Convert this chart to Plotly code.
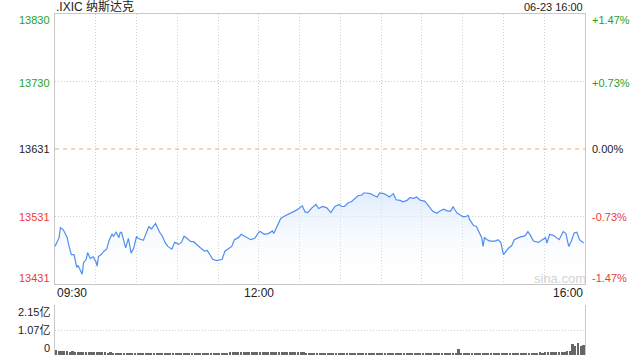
import plotly.graph_objects as go

# ---------------- data ----------------
title_text = ".IXIC 纳斯达克"
date_text = "06-23 16:00"
prev_close = 13631

# minutes since 09:30
minutes = [0, 2, 3, 4, 6, 7, 9, 10, 12, 14, 16, 17, 20, 21, 23, 24, 26, 28, 30, 31,
           32, 34, 36, 38, 40, 42, 43, 45, 47, 48, 49, 50, 52, 54, 56, 58, 60, 61, 65, 69,
           71, 74, 75, 77, 79, 81, 83, 86, 88, 91, 93, 95, 97, 100, 102, 104, 107, 110, 112, 114,
           116, 119, 123, 125, 128, 130, 132, 135, 137, 140, 142, 144, 147, 150, 151, 154, 157, 160, 161, 163,
           166, 168, 170, 172, 175, 178, 182, 184, 186, 189, 192, 194, 197, 200, 203, 206, 209, 211, 213, 216,
           218, 221, 223, 226, 227, 229, 232, 234, 237, 239, 242, 244, 246, 249, 251, 254, 256, 259, 261, 264,
           266, 269, 272, 274, 276, 278, 281, 283, 286, 288, 291, 293, 294, 296, 298, 300, 302, 304, 305, 308,
           310, 312, 314, 315, 316, 318, 320, 324, 326, 328, 329, 330, 332, 334, 336, 338, 341, 343, 346, 348,
           350, 352, 356, 358, 361, 362, 364, 367, 369, 371, 374, 376, 378, 380, 382, 384, 386, 388, 389]
prices = [13487, 13497, 13500, 13515, 13512, 13508, 13500, 13490, 13475, 13475, 13456, 13459, 13446, 13463, 13468, 13478, 13469, 13472, 13465, 13458,
          13472, 13475, 13480, 13483, 13497, 13505, 13502, 13508, 13500, 13508, 13508, 13500, 13485, 13499, 13477, 13485, 13502, 13499, 13496, 13516,
          13513, 13521, 13516, 13508, 13502, 13493, 13487, 13483, 13493, 13490, 13493, 13502, 13499, 13494, 13494, 13490, 13485, 13480, 13481, 13475,
          13468, 13466, 13468, 13480, 13485, 13487, 13497, 13500, 13505, 13502, 13500, 13497, 13499, 13508, 13509, 13505, 13506, 13510, 13506, 13515,
          13528, 13531, 13533, 13535, 13537, 13541, 13547, 13538, 13537, 13544, 13549, 13543, 13546, 13544, 13537, 13546, 13549, 13546, 13546, 13552,
          13553, 13559, 13562, 13563, 13566, 13566, 13565, 13563, 13560, 13566, 13565, 13563, 13560, 13565, 13556, 13555, 13553, 13555, 13559, 13558,
          13560, 13555, 13554, 13549, 13544, 13539, 13536, 13539, 13542, 13540, 13539, 13546, 13542, 13536, 13534, 13531, 13531, 13533, 13527, 13518,
          13517, 13509, 13500, 13487, 13500, 13497, 13495, 13495, 13497, 13493, 13483, 13475, 13480, 13485, 13488, 13497, 13500, 13501, 13503, 13509,
          13503, 13495, 13493, 13496, 13500, 13492, 13505, 13503, 13500, 13497, 13509, 13506, 13487, 13495, 13507, 13508, 13497, 13493, 13492]

# volume (亿), one bar per 2 minutes
volume = [0.22, 0.19, 0.17, 0.16, 0.17, 0.15, 0.16, 0.14, 0.15, 0.13,
          0.14, 0.15, 0.13, 0.12, 0.13, 0.12, 0.11, 0.12, 0.11, 0.10,
          0.11, 0.10, 0.09, 0.10, 0.09, 0.10, 0.09, 0.08, 0.09, 0.08,
          0.09, 0.08, 0.07, 0.08, 0.07, 0.08, 0.07, 0.08, 0.07, 0.07,
          0.08, 0.07, 0.08, 0.07, 0.07, 0.06, 0.07, 0.08, 0.07, 0.06,
          0.07, 0.08, 0.07, 0.07, 0.06, 0.07, 0.07, 0.06, 0.07, 0.06,
          0.07, 0.06, 0.07, 0.08, 0.12, 0.13, 0.11, 0.12, 0.14, 0.12,
          0.11, 0.13, 0.12, 0.14, 0.13, 0.12, 0.13, 0.11, 0.12, 0.13,
          0.14, 0.12, 0.13, 0.12, 0.11, 0.13, 0.12, 0.13, 0.14, 0.12,
          0.11, 0.12, 0.10, 0.09, 0.10, 0.08, 0.09, 0.08, 0.07, 0.08,
          0.07, 0.07, 0.06, 0.07, 0.06, 0.07, 0.06, 0.06, 0.07, 0.06,
          0.07, 0.06, 0.08, 0.07, 0.06, 0.07, 0.06, 0.07, 0.06, 0.06,
          0.07, 0.06, 0.07, 0.06, 0.07, 0.06, 0.07, 0.07, 0.06, 0.07,
          0.08, 0.07, 0.08, 0.07, 0.08, 0.09, 0.08, 0.07, 0.08, 0.07,
          0.08, 0.07, 0.08, 0.07, 0.07, 0.06, 0.07, 0.06, 0.27, 0.09,
          0.08, 0.09, 0.07, 0.06, 0.08, 0.06, 0.05, 0.07, 0.08, 0.07,
          0.08, 0.07, 0.08, 0.09, 0.08, 0.07, 0.08, 0.09, 0.08, 0.08,
          0.09, 0.08, 0.09, 0.08, 0.09, 0.10, 0.09, 0.10, 0.11, 0.10,
          0.12, 0.11, 0.12, 0.13, 0.12, 0.14, 0.15, 0.14, 0.18, 0.16,
          0.48, 0.40, 0.52, 0.38, 0.42]
vol_minutes = [2 * i + 1 for i in range(len(volume))]

price_ticks = [13830, 13730, 13631, 13531, 13431]
price_tick_vals = [13830.5, 13730.5, 13631, 13531, 13431.5]
pct_labels = ["+1.47%", "+0.73%", "0.00%", "-0.73%", "-1.47%"]
time_tick_vals = [0, 150, 390]
time_tick_labels = ["09:30", "12:00", "16:00"]
vol_tick_vals = [2.15, 1.07, 0]
vol_tick_labels = ["2.15亿", "1.07亿", "0"]

# ---------------- styling ----------------
W, H = 640, 360
L, R = 55, 585
MAIN_T, MAIN_B = 14, 284
VOL_T, VOL_B = 305, 355
GREEN = "#1fa31f"
RED = "#ee3b36"
DARK = "#222222"
LINE = "#4f8ef0"
GRID = "#cfcfcf"
BORDER = "#c8c8c8"
FONT = "Arial, 'Liberation Sans', 'Noto Sans CJK SC', sans-serif"
DOT = "1px,2px"

def fx(p):
    return p / W

def fy(p):
    return 1 - p / H

fig = go.Figure()

fig.add_trace(go.Scatter(
    x=minutes, y=prices, mode="lines",
    line=dict(color=LINE, width=1.2),
    fill="tozeroy",
    fillgradient=dict(type="vertical",
                      colorscale=[[0, "rgba(255,255,255,0)"], [1, "rgba(214,230,252,0.75)"]],
                      start=13431, stop=13566),
    xaxis="x", yaxis="y", hoverinfo="skip", showlegend=False,
))

fig.add_trace(go.Bar(
    x=vol_minutes, y=volume, width=1.3,
    marker=dict(color="#666666", line=dict(width=0)),
    xaxis="x2", yaxis="y2", hoverinfo="skip", showlegend=False,
))

fig.add_shape(type="line", xref="x", yref="y", x0=0, x1=390, y0=prev_close, y1=prev_close,
              line=dict(color="#f4a46a", width=1, dash="4px,4px"), layer="above")

ax_common = dict(showticklabels=False, ticks="", zeroline=False, showgrid=True,
                 gridcolor=GRID, griddash=DOT, gridwidth=1)

fig.update_layout(
    width=W, height=H,
    margin=dict(l=0, r=0, t=0, b=0),
    paper_bgcolor="white", plot_bgcolor="white",
    font=dict(family=FONT, size=11, color=DARK),
    xaxis=dict(domain=[fx(L), fx(R)], range=[0, 390], tickvals=list(range(0, 391, 30)),
               showline=True, mirror=True, linecolor=BORDER, linewidth=1, **ax_common),
    yaxis=dict(domain=[fy(MAIN_B), fy(MAIN_T)], range=[13431.5, 13830.5],
               tickvals=[13531, 13730.5],
               showline=True, mirror=True, linecolor=BORDER, linewidth=1, **ax_common),
    xaxis2=dict(domain=[fx(L), fx(R)], range=[0, 390], anchor="y2",
                showline=False, showticklabels=False, ticks="", showgrid=False, zeroline=False),
    yaxis2=dict(domain=[fy(VOL_B), fy(VOL_T)], range=[0, 2.15], anchor="x2",
                tickvals=[1.07, 2.15],
                showline=True, mirror=True, linecolor=BORDER, linewidth=1, **ax_common),
    bargap=0,
)

annotations = []
# title and date
annotations.append(dict(text=title_text, xref="paper", yref="paper", x=fx(L - 1), y=fy(7),
                        xanchor="left", yanchor="middle", showarrow=False,
                        font=dict(size=12, color=DARK)))
annotations.append(dict(text=date_text, xref="paper", yref="paper", x=fx(R), y=fy(7),
                        xanchor="right", yanchor="middle", showarrow=False,
                        font=dict(size=11, color=DARK)))

# price and percent labels
shifts = [-6, -1, 0, 0, 6]
colors = [GREEN, GREEN, DARK, RED, RED]
for val, tv, pct, s, c in zip(price_ticks, price_tick_vals, pct_labels, shifts, colors):
    annotations.append(dict(text=str(val), xref="paper", yref="y", x=fx(L - 3), y=tv, yshift=s,
                            xanchor="right", yanchor="middle", showarrow=False,
                            font=dict(size=11, color=c)))
    annotations.append(dict(text=pct, xref="paper", yref="y", x=fx(R + 5), y=tv, yshift=s,
                            xanchor="left", yanchor="middle", showarrow=False,
                            font=dict(size=11, color=c)))

# time labels
anchors = ["left", "center", "right"]
for tv, tl, a in zip(time_tick_vals, time_tick_labels, anchors):
    annotations.append(dict(text=tl, xref="x", yref="paper", x=tv, y=fy(293),
                            xanchor=a, yanchor="middle", showarrow=False,
                            font=dict(size=12, color=DARK)))

# volume labels
vshifts = [-7, 0, 7]
for tv, tl, s in zip(vol_tick_vals, vol_tick_labels, vshifts):
    annotations.append(dict(text=tl, xref="paper", yref="y2", x=fx(L - 3), y=tv, yshift=s,
                            xanchor="right", yanchor="middle", showarrow=False,
                            font=dict(size=11, color=DARK)))

# watermark
annotations.append(dict(text="sina.com", xref="paper", yref="paper", x=fx(560), y=fy(278),
                        xanchor="center", yanchor="middle", showarrow=False,
                        font=dict(size=13, color="#d4d4d4")))

fig.update_layout(annotations=annotations)

fig.write_html("out.html", config={"displayModeBar": False},
               post_script="document.body.style.margin='0px';document.body.style.overflow='hidden';")
